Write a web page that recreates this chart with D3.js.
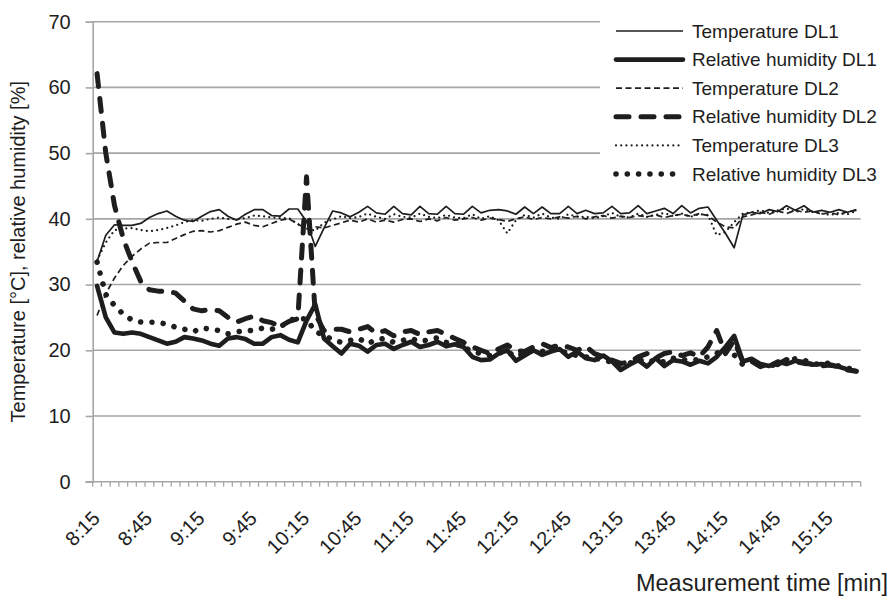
<!DOCTYPE html>
<html>
<head>
<meta charset="utf-8">
<script src="https://cdn.jsdelivr.net/npm/d3@7"></script>
<style>
  body { margin: 0; background: #fff; }
  svg { font-family: "Liberation Sans", Arial, sans-serif; }
</style>
</head>
<body>
<div id="container"></div>
<script>
// categories (5 min steps)
const times = ["8:15","8:20","8:25","8:30","8:35","8:40","8:45","8:50","8:55","9:00","9:05","9:10",
  "9:15","9:20","9:25","9:30","9:35","9:40","9:45","9:50","9:55","10:00","10:05","10:10",
  "10:15","10:20","10:25","10:30","10:35","10:40","10:45","10:50","10:55","11:00","11:05","11:10",
  "11:15","11:20","11:25","11:30","11:35","11:40","11:45","11:50","11:55","12:00","12:05","12:10",
  "12:15","12:20","12:25","12:30","12:35","12:40","12:45","12:50","12:55","13:00","13:05","13:10",
  "13:15","13:20","13:25","13:30","13:35","13:40","13:45","13:50","13:55","14:00","14:05","14:10",
  "14:15","14:20","14:25","14:30","14:35","14:40","14:45","14:50","14:55","15:00","15:05","15:10",
  "15:15","15:20","15:25","15:30"];

const tickLabels = ["8:15","8:45","9:15","9:45","10:15","10:45","11:15","11:45",
  "12:15","12:45","13:15","13:45","14:15","14:45","15:15"];

const yTicks = [0, 10, 20, 30, 40, 50, 60, 70];

const tempDL1 = [33.5, 37.5, 39.1, 39.0, 39.0, 39.3, 40.2, 40.8, 41.2, 40.4, 39.8, 39.6,
  40.4, 41.1, 41.4, 40.4, 39.8, 40.7, 41.4, 41.4, 40.5, 40.4, 41.5, 41.5,
  39.6, 35.8, 38.6, 41.2, 40.9, 40.3, 41.0, 41.9, 40.9, 40.7, 41.9, 40.8,
  40.6, 41.9, 40.8, 40.7, 41.9, 40.8, 40.7, 41.9, 40.9, 41.3, 41.4, 41.2,
  40.7, 41.8, 40.8, 41.8, 40.8, 40.8, 41.9, 40.8, 41.3, 40.8, 40.9, 41.9,
  40.8, 40.9, 42.0, 40.8, 41.2, 41.6, 40.8, 42.0, 40.9, 41.6, 41.8, 39.8,
  37.8, 35.6, 40.6, 41.0, 40.8, 41.4, 41.1, 42.0, 41.3, 42.0, 41.0, 41.3,
  41.0, 41.4, 41.0, 41.4];

const rhDL1 = [29.8, 25.0, 22.7, 22.5, 22.7, 22.5, 22.0, 21.5, 21.0, 21.3, 22.0, 21.8,
  21.5, 21.0, 20.7, 21.8, 22.0, 21.7, 21.0, 21.0, 22.0, 22.3, 21.6, 21.2,
  24.5, 27.0, 21.8, 20.6, 19.5, 21.0, 20.7, 19.8, 20.8, 21.0, 20.2, 20.8,
  21.3, 20.5, 20.8, 21.3, 20.6, 20.9, 20.5, 19.0, 18.5, 18.6, 19.5, 20.0,
  18.4, 19.2, 20.0, 19.3, 19.8, 20.2, 19.0, 19.8, 18.8, 18.5, 19.2, 18.3,
  17.0, 17.8, 18.5, 17.5, 18.8, 17.6, 18.5, 18.3, 17.8, 18.4, 18.0, 19.0,
  20.5, 22.2, 18.3, 18.7, 17.9, 17.6, 18.3, 17.9, 18.4, 18.2, 17.8, 17.9,
  17.7, 17.5, 17.1, 16.8];

const tempDL2 = [25.3, 28.6, 31.0, 32.9, 34.3, 35.4, 36.3, 36.4, 36.4, 37.0, 37.6, 38.1,
  38.2, 38.0, 38.2, 38.7, 39.2, 39.5, 39.0, 38.8, 39.3, 39.8, 40.0, 39.2,
  38.5, 38.8, 38.6, 39.0, 39.4, 39.8, 39.5, 40.0, 39.5, 39.8, 39.5, 39.9,
  40.0, 39.6, 40.0, 39.7, 40.2, 39.8, 40.0, 40.2, 39.8, 40.1, 39.9, 39.6,
  40.0, 40.3, 39.9, 40.2, 40.0, 40.3, 40.1, 40.4, 40.0, 40.3, 40.5, 40.1,
  40.4, 40.2, 40.5, 40.3, 40.6, 40.2, 40.5, 40.7, 40.4, 40.8, 40.5, 39.5,
  38.8, 38.6, 40.3, 40.6, 41.0, 40.7, 41.2, 40.8, 41.3, 41.0, 41.2, 40.7,
  41.0, 40.6, 41.1, 41.3];

const rhDL2 = [62.1, 50.0, 42.0, 37.0, 33.5, 30.5, 29.2, 29.0, 29.0, 28.7, 27.5, 26.3,
  26.0, 26.2, 26.0, 25.0, 24.3, 24.8, 25.2, 24.5, 24.2, 23.6, 24.4, 24.8,
  46.4, 25.5, 23.0, 23.2, 23.2, 22.8, 23.2, 23.6, 22.6, 23.0, 22.2, 22.8,
  23.0, 22.4, 22.8, 23.0, 22.4, 21.8, 21.2, 20.5, 20.0, 19.5, 20.2, 20.8,
  20.0, 19.8, 20.5, 21.0, 20.4, 20.8, 20.5, 20.0, 20.6, 19.5, 19.0, 18.5,
  18.0, 18.2, 19.0, 19.5, 18.8, 19.5, 19.8, 19.2, 19.6, 19.0, 20.5, 23.0,
  19.5, 21.5, 18.2, 18.3, 17.5, 18.0, 17.8, 18.6, 18.3, 18.0, 17.9, 17.6,
  17.8, 17.5, 17.0, 16.8];

const tempDL3 = [33.7, 36.4, 38.3, 38.5, 38.6, 38.3, 38.1, 38.3, 38.6, 39.0, 39.5, 39.8,
  39.7, 40.0, 40.2, 40.0, 39.9, 40.1, 40.5, 40.4, 40.2, 40.1, 40.1, 39.2,
  38.5, 38.2, 39.4, 39.9, 40.4, 40.1, 40.3, 40.8, 40.3, 40.0, 40.7, 40.3,
  40.2, 40.8, 40.3, 40.1, 40.6, 40.2, 40.1, 40.7, 40.0, 40.4, 39.8, 37.8,
  39.8, 40.6, 40.2, 40.8, 40.2, 40.0, 40.7, 40.3, 40.3, 40.1, 40.4, 40.9,
  40.3, 40.2, 40.8, 40.3, 40.6, 40.9, 40.4, 40.8, 40.3, 40.7, 40.6, 37.5,
  38.0, 39.5, 40.8, 41.0, 41.3, 40.9, 41.3, 41.6, 41.0, 41.5, 41.1, 40.8,
  40.6, 40.9, 40.7, 41.2];

const rhDL3 = [33.4, 28.5, 26.8, 25.5, 24.6, 24.3, 24.3, 24.2, 24.0, 23.5, 23.2, 22.8,
  23.4, 23.2, 23.0, 22.5, 22.8, 23.0, 23.0, 23.4, 23.2, 23.5, 24.6, 24.8,
  24.8, 22.8, 22.3, 21.6, 21.2, 21.5, 21.8, 21.0, 21.6, 21.8, 21.2, 21.5,
  21.8, 21.3, 21.6, 21.9, 21.2, 21.0, 20.5, 19.8, 19.5, 19.2, 19.6, 19.8,
  19.0, 19.6, 20.0, 19.8, 20.2, 20.0, 19.5, 19.2, 19.0, 18.8, 18.5, 18.2,
  17.8, 18.0, 18.6, 18.2, 18.5, 18.2, 18.8, 18.6, 18.5, 18.6, 19.0, 19.5,
  20.5, 19.3, 17.8, 18.5, 17.8, 17.5, 18.0, 18.3, 18.7, 18.5, 18.0, 17.8,
  18.1, 17.6, 17.3, 16.9];

const seriesNames = ["Temperature DL1", "Relative humidity DL1", "Temperature DL2",
  "Relative humidity DL2", "Temperature DL3", "Relative humidity DL3"];

/**
 * CONSTANTS AND GLOBALS
 * */
const width = 891, height = 600;
const margin = { top: 21.7, right: 30.3, bottom: 118.3, left: 92.7 };
const ink = "#1e1e1e", grey = "#a6a6a6";

// line looks, same order as seriesNames
const looks = [
  { w: 1.7, dash: null, cap: "butt" },
  { w: 4.6, dash: null, cap: "round" },
  { w: 1.7, dash: "6,3.5", cap: "butt" },
  { w: 5, dash: "13,12", cap: "round" },
  { w: 2.2, dash: "0.01,5.2", cap: "round" },
  { w: 5.6, dash: "0.01,11.3", cap: "round" }
];
const allSeries = [tempDL1, rhDL1, tempDL2, rhDL2, tempDL3, rhDL3];

const svg = d3.select("#container")
  .append("svg")
  .attr("width", width)
  .attr("height", height);

const x = d3.scaleBand()
  .domain(times)
  .range([margin.left, width - margin.right])
  .padding(0);

const y = d3.scaleLinear()
  .domain([0, 70])
  .range([height - margin.bottom, margin.top]);

const xMid = d => x(d) + x.bandwidth() / 2;

// gridlines
svg.append("g")
  .selectAll("line")
  .data(yTicks.filter(d => d > 0))
  .join("line")
  .attr("x1", margin.left)
  .attr("x2", width - margin.right)
  .attr("y1", d => y(d))
  .attr("y2", d => y(d))
  .attr("stroke", grey)
  .attr("stroke-width", 1.6);

// y axis
const yAxis = svg.append("g")
  .attr("transform", `translate(${margin.left},0)`)
  .call(d3.axisLeft(y).tickValues(yTicks).tickSize(7).tickPadding(15));
yAxis.select(".domain").attr("stroke", grey).attr("stroke-width", 1.6);
yAxis.selectAll(".tick line").attr("stroke", grey).attr("stroke-width", 1.6);
yAxis.selectAll("text")
  .attr("fill", ink)
  .style("font-size", "20px");

// x axis: ticks at category borders, labels in the middle of the category
const xBase = y(0);
const borders = times.map(d => x(d)).concat([x.range()[1]]);
svg.append("g")
  .selectAll("line")
  .data(borders)
  .join("line")
  .attr("x1", d => d)
  .attr("x2", d => d)
  .attr("y1", xBase)
  .attr("y2", xBase + 5)
  .attr("stroke", grey)
  .attr("stroke-width", 1.3);

svg.append("line")
  .attr("x1", margin.left - 7)
  .attr("x2", width - margin.right)
  .attr("y1", xBase)
  .attr("y2", xBase)
  .attr("stroke", grey)
  .attr("stroke-width", 1.6);

svg.append("g")
  .selectAll("text")
  .data(tickLabels)
  .join("text")
  .attr("transform", d => `translate(${xMid(d) + 4},${xBase + 38}) rotate(-45)`)
  .attr("text-anchor", "end")
  .attr("fill", ink)
  .style("font-size", "20px")
  .text(d => d);

// series lines
const line = d3.line()
  .x((d, i) => xMid(times[i]))
  .y(d => y(d));

svg.append("g")
  .selectAll("path")
  .data(allSeries)
  .join("path")
  .attr("d", d => line(d))
  .attr("fill", "none")
  .attr("stroke", ink)
  .attr("stroke-width", (d, i) => looks[i].w)
  .attr("stroke-dasharray", (d, i) => looks[i].dash)
  .attr("stroke-linecap", (d, i) => looks[i].cap)
  .attr("stroke-linejoin", "round");

// legend
const legend = svg.append("g");
legend.append("rect")
  .attr("x", 600)
  .attr("y", 14)
  .attr("width", 285)
  .attr("height", 174)
  .attr("fill", "#fff");

const rows = legend.selectAll("g")
  .data(seriesNames)
  .join("g")
  .attr("transform", (d, i) => `translate(0,${31 + i * 28.6})`);

rows.append("line")
  .attr("x1", 616)
  .attr("x2", 683)
  .attr("stroke", ink)
  .attr("stroke-width", (d, i) => looks[i].w)
  .attr("stroke-dasharray", (d, i) => looks[i].dash)
  .attr("stroke-linecap", (d, i) => looks[i].cap);

rows.append("text")
  .attr("x", 692)
  .attr("dy", "0.35em")
  .attr("fill", ink)
  .style("font-size", "19px")
  .text(d => d);

// axis titles
svg.append("text")
  .attr("transform", `translate(25,${(margin.top + xBase) / 2}) rotate(-90)`)
  .attr("text-anchor", "middle")
  .attr("fill", ink)
  .style("font-size", "20px")
  .text("Temperature [°C], relative humidity [%]");

svg.append("text")
  .attr("x", 888)
  .attr("y", 591)
  .attr("text-anchor", "end")
  .attr("fill", ink)
  .style("font-size", "23.5px")
  .text("Measurement time [min]");
</script>
</body>
</html>
